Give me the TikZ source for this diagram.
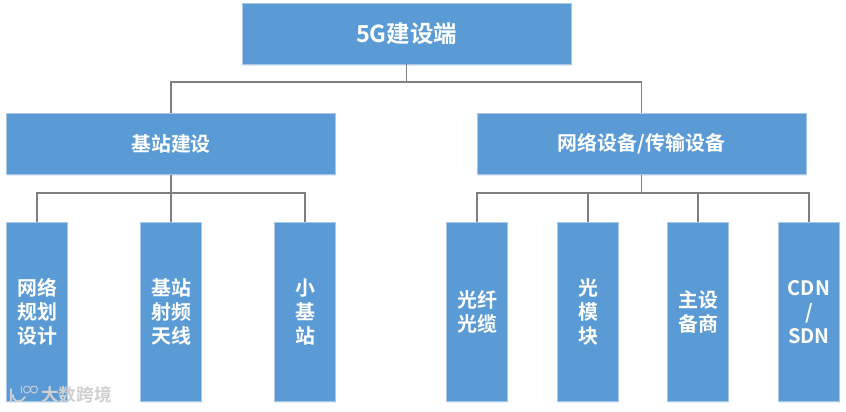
\documentclass[tikz,border=0pt]{standalone}
\usepackage{fontspec}
\setmainfont{Noto Sans CJK SC}[BoldFont={Noto Sans CJK SC Bold}]
\usepackage{tikz}
\usetikzlibrary{shadows}
\definecolor{boxblue}{HTML}{5B9BD5}
\definecolor{boxedge}{HTML}{A9C8E6}
\definecolor{linegray}{HTML}{7F7F7F}
\definecolor{markgray}{HTML}{CFCFCF}
\tikzset{
  box/.style={draw=boxedge, line width=0.5pt, fill=boxblue, text=white, align=center,
    font=\fontsize{17}{20.4}\selectfont\bfseries, inner sep=0pt,
    drop shadow={shadow xshift=0.02cm, shadow yshift=-0.05cm, opacity=0.18, fill=boxblue}},
  widebox/.style={box, minimum width=9.87cm, minimum height=1.83cm},
  tallbox/.style={box, minimum width=1.84cm, minimum height=5.38cm},
  link/.style={draw=linegray, line width=0.9pt},
}
\begin{document}
\begin{tikzpicture}[x=0.03cm, y=-0.03cm]
\useasboundingbox (0,0) rectangle (846,411);
% top row
\node[widebox, font=\fontsize{20}{24}\selectfont\bfseries] (top) at (406.5,33.5) {5G建设端};
% middle row
\node[widebox] (base) at (171,144) {基站建设};
\node[widebox] (net) at (641.5,144) {网络设备/传输设备};
% bottom row
\node[tallbox] (plan) at (37,312) {网络\\规划\\设计};
\node[tallbox] (radio) at (171,312) {基站\\射频\\天线};
\node[tallbox] (small) at (305,312) {小\\基\\站};
\node[tallbox] (fiber) at (477,312) {光纤\\光缆};
\node[tallbox] (module) at (588,312) {光\\模\\块};
\node[tallbox] (vendor) at (698,312) {主设\\备商};
\node[tallbox] (cdn) at (809,312) {CDN\\/\\SDN};
% bus lines
\coordinate (topbus) at (406.5,82);
\coordinate (basebus) at (171,193);
\coordinate (netbus) at (641.5,193);
\draw[link] (top.south) -- (topbus);
\foreach \child in {base,net}
  \draw[link] (topbus) -| (\child.north);
\draw[link] (base.south) -- (basebus);
\foreach \child in {plan,radio,small}
  \draw[link] (basebus) -| (\child.north);
\draw[link] (net.south) -- (netbus);
\foreach \child in {fiber,module,vendor,cdn}
  \draw[link] (netbus) -| (\child.north);
% watermark
\node[text=markgray, font=\fontsize{15}{15}\selectfont\bfseries, inner sep=0pt] (mark) at (76.5,395) {大数跨境};
\draw[markgray, line width=1.5pt, line cap=round] (11,389) -- (11,402);
\draw[markgray, line width=1.5pt, line cap=round] (25,397) .. controls (20,404) and (13,402) .. (13,395);
\draw[markgray, line width=0.8pt] (21,386) -- (21,393);
\draw[markgray, line width=0.8pt] (27,389.5) ellipse (3.5 and 3.5);
\draw[markgray, line width=0.8pt] (34,389.5) ellipse (3.5 and 3.5);
\end{tikzpicture}
\end{document}
